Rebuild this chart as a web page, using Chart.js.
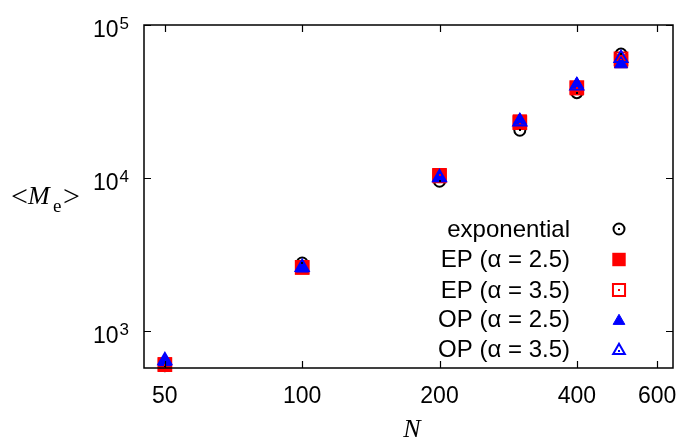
<!DOCTYPE html>
<html>
<head>
<meta charset="utf-8">
<script src="https://cdn.jsdelivr.net/npm/chart.js@4/dist/chart.umd.min.js"></script>
<style>
html,body{margin:0;padding:0;background:#fff;}
#wrap{width:687px;height:445px;position:relative;}
</style>
</head>
<body>
<div id="wrap"><canvas id="c" width="687" height="445"></canvas></div>
<script>
// ---- data ----
const Nvalues = [50, 100, 200, 300, 400, 500];
const exponential = [590, 2770, 9500, 20500, 36100, 64500];
const ep25 = [603, 2590, 10250, 23400, 38500, 58000];
const ep35 = [600, 2600, 10400, 23000, 39000, 60000];
const op25 = [625, 2560, 10000, 23800, 40900, 55500];
const op35 = [638, 2600, 10050, 23300, 40000, 60700];
const seriesLabels = ['exponential', 'EP (\u03b1 = 2.5)', 'EP (\u03b1 = 3.5)', 'OP (\u03b1 = 2.5)', 'OP (\u03b1 = 3.5)'];
const xTickValues = [50, 100, 200, 400, 600];
const yTickExponents = [3, 4, 5];

const pts = arr => Nvalues.map((n, i) => ({x: n, y: arr[i]}));

const styles = [
  {pointStyle: 'circle', pointRadius: 5.5, borderColor: '#000000', backgroundColor: 'rgba(0,0,0,0)', borderWidth: 2, dot: true},
  {pointStyle: 'rect', pointRadius: 10, borderColor: '#ff0000', backgroundColor: '#ff0000', borderWidth: 0, dot: false},
  {pointStyle: 'rect', pointRadius: 9, borderColor: '#ff0000', backgroundColor: 'rgba(0,0,0,0)', borderWidth: 2, dot: true},
  {pointStyle: 'triangle', pointRadius: 7.5, borderColor: '#0000ff', backgroundColor: '#0000ff', borderWidth: 1, dot: false},
  {pointStyle: 'triangle', pointRadius: 7.5, borderColor: '#0000ff', backgroundColor: 'rgba(0,0,0,0)', borderWidth: 2, dot: true}
];
const seriesData = [exponential, ep25, ep35, op25, op35];

const datasets = seriesData.map((arr, i) => ({
  label: seriesLabels[i],
  data: pts(arr),
  showLine: false,
  pointStyle: styles[i].pointStyle,
  pointRadius: styles[i].pointRadius,
  pointHoverRadius: styles[i].pointRadius,
  pointBorderColor: styles[i].borderColor,
  pointBackgroundColor: styles[i].backgroundColor,
  pointBorderWidth: styles[i].borderWidth,
  borderColor: styles[i].borderColor,
  backgroundColor: styles[i].backgroundColor,
  clip: false,
  order: 5 - i,
  centerDot: styles[i].dot
}));

const SANS = '"Liberation Sans", Arial, sans-serif';
const SERIF = '"Liberation Serif", "Times New Roman", serif';

const framePlugin = {
  id: 'frame',
  afterDatasetsDraw(chart) {
    const ctx = chart.ctx;
    const a = chart.chartArea;
    const xs = chart.scales.x, ys = chart.scales.y;
    ctx.save();
    // center dots
    chart.data.datasets.forEach((ds, i) => {
      if (!ds.centerDot) return;
      const meta = chart.getDatasetMeta(i);
      ctx.fillStyle = ds.borderColor;
      meta.data.forEach(p => {
        ctx.fillRect(Math.round(p.x) - 1, Math.round(p.y) - 1, 2, 2);
      });
    });
    ctx.strokeStyle = '#000';
    ctx.lineWidth = 1.5;
    ctx.strokeRect(a.left, a.top, a.right - a.left, a.bottom - a.top);
    const tl = 7;
    ctx.beginPath();
    xTickValues.forEach(v => {
      const px = Math.round(xs.getPixelForValue(v)) + 0.5;
      ctx.moveTo(px, a.bottom); ctx.lineTo(px, a.bottom - tl);
      ctx.moveTo(px, a.top); ctx.lineTo(px, a.top + tl);
    });
    yTickExponents.forEach(e => {
      const py = Math.round(ys.getPixelForValue(Math.pow(10, e))) + 0.5;
      ctx.moveTo(a.left, py); ctx.lineTo(a.left + tl, py);
      ctx.moveTo(a.right, py); ctx.lineTo(a.right - tl, py);
    });
    ctx.lineWidth = 1.2;
    ctx.stroke();

    // y tick labels 10^e
    ctx.fillStyle = '#000';
    ctx.textBaseline = 'alphabetic';
    yTickExponents.forEach(e => {
      const py = ys.getPixelForValue(Math.pow(10, e));
      ctx.font = '17px ' + SANS;
      const ew = ctx.measureText(String(e)).width;
      ctx.textAlign = 'right';
      ctx.fillText(String(e), 129, py + 4);
      ctx.font = '23px ' + SANS;
      ctx.fillText('10', 129 - ew - 1, py + 12);
    });

    // y axis title <M_e>
    ctx.textAlign = 'left';
    ctx.font = '30px ' + SERIF;
    ctx.fillText('<', 11, 206);
    ctx.font = 'italic 26px ' + SERIF;
    ctx.fillText('M', 28, 204);
    ctx.font = '19px ' + SERIF;
    ctx.fillText('e', 53, 212);
    ctx.font = '30px ' + SERIF;
    ctx.fillText('>', 63, 206);

    // x axis title N
    ctx.textAlign = 'center';
    ctx.font = 'italic 26px ' + SERIF;
    ctx.fillText('N', 412, 437);

    // legend
    const rowY = [229, 259.5, 290, 319.5, 349];
    const textRight = 570, markX = 619;
    chart.data.datasets.forEach((ds, i) => {
      const y = rowY[i];
      ctx.font = '24px ' + SANS;
      ctx.textAlign = 'right';
      ctx.textBaseline = 'middle';
      ctx.fillStyle = '#000';
      ctx.fillText(ds.label, textRight, y + 1);
      const st = styles[i];
      ctx.fillStyle = st.backgroundColor;
      ctx.strokeStyle = st.borderColor;
      ctx.lineWidth = st.borderWidth;
      let r = st.pointRadius;
      if (st.pointStyle === 'rect') r = r * 0.95;
      if (st.pointStyle === 'triangle') r = r * 0.9;
      Chart.helpers.drawPoint(ctx, {pointStyle: st.pointStyle, radius: r, borderWidth: st.borderWidth, rotation: 0}, markX, y + (st.pointStyle === 'triangle' ? 1.5 : 0));
      if (st.dot) {
        ctx.fillStyle = st.borderColor;
        ctx.fillRect(markX - 1, Math.round(y + (st.pointStyle === 'triangle' ? 2 : 0)) - 1, 2, 2);
      }
    });
    ctx.restore();
  }
};

new Chart(document.getElementById('c'), {
  type: 'scatter',
  data: {datasets},
  options: {
    responsive: false,
    animation: false,
    events: [],
    layout: {padding: {top: 25, right: 14, left: 0, bottom: 0}},
    plugins: {legend: {display: false}, tooltip: {enabled: false}},
    scales: {
      x: {
        type: 'logarithmic',
        min: 45, max: 650,
        grid: {display: false},
        border: {display: false},
        afterBuildTicks: s => { s.ticks = xTickValues.map(v => ({value: v})); },
        afterFit: s => { s.height = 77; },
        ticks: {
          autoSkip: false, maxRotation: 0,
          padding: 7,
          color: '#000',
          font: {family: SANS, size: 23},
          callback: v => String(v)
        }
      },
      y: {
        type: 'logarithmic',
        min: 570, max: 100000,
        grid: {display: false},
        border: {display: false},
        afterFit: s => { s.width = 144; },
        ticks: {display: false}
      }
    }
  },
  plugins: [framePlugin]
});
</script>
</body>
</html>
